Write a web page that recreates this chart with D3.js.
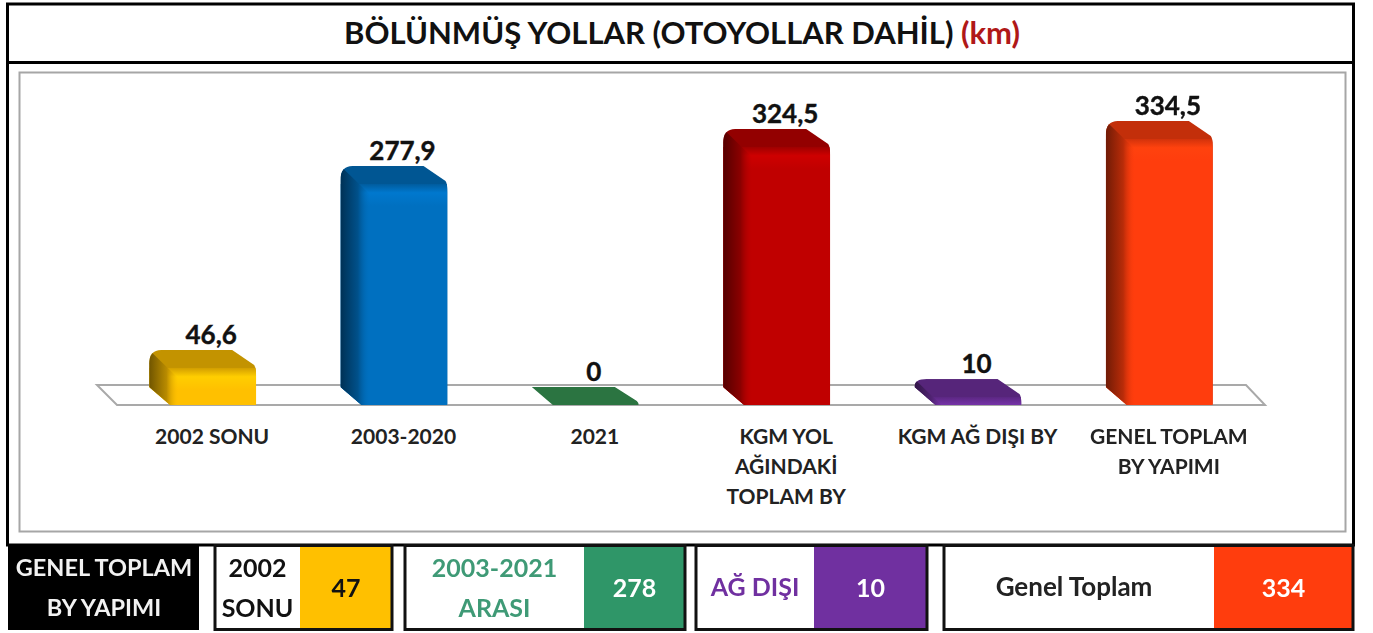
<!DOCTYPE html>
<html><head><meta charset="utf-8">
<script src="https://cdn.jsdelivr.net/npm/d3@7/dist/d3.min.js"></script>
<style>html,body{margin:0;background:#fff;overflow:hidden}svg{display:block;filter:blur(.45px)}text{font-family:Lato,"Open Sans",sans-serif;font-weight:700}</style>
</head><body><svg id="c" width="1373" height="633"></svg>
<script>
const categories = ["2002 SONU","2003-2020","2021","KGM YOL|AĞINDAKİ|TOPLAM BY","KGM AĞ DIŞI BY","GENEL TOPLAM|BY YAPIMI"];
const values = [46.6,277.9,0,324.5,10,334.5];
const valueLabels = ["46,6","277,9","0","324,5","10","334,5"];
const barColors = ["#FFC000","#0070C0","#2E7D46","#C00000","#7030A0","#FF3D0D"];
const titleMain = "BÖLÜNMÜŞ YOLLAR (OTOYOLLAR DAHİL) ";
const titleUnit = "(km)";
const summaryLabels = ["2002|SONU","2003-2021|ARASI","AĞ DIŞI","Genel Toplam"];
const summaryValues = ["47","278","10","334"];
const summaryColors = ["#FFC000","#2F9668","#7030A0","#FF3D0D"];
const summaryLabelColors = ["#111","#3F9A76","#7030A0","#222"];
const summaryValueColors = ["#111","#fff","#fff","#fff"];

const svg = d3.select("#c");
const defs = svg.append("defs");
const x = d3.scaleBand().domain(categories).range([116.5,1264.5]).paddingInner(.54).paddingOuter(.27);
const y = d3.scaleLinear().domain([0,334.5]).range([405,139]);
const dx = 19, dy = 18;

const rect=(a,b,w,h,f,s,sw)=>svg.append("rect").attr("x",a).attr("y",b).attr("width",w).attr("height",h).attr("fill",f).attr("stroke",s||"none").attr("stroke-width",sw||0);
rect(7.5,4,1346,541,"#fff","#000",3);
svg.append("line").attr("x1",7).attr("x2",1354).attr("y1",62.5).attr("y2",62.5).attr("stroke","#000").attr("stroke-width",3);
rect(19.5,72.5,1326,459,"#fff","#a6a6a6",2);

const title = svg.append("text").attr("x",682).attr("y",44).attr("text-anchor","middle").attr("font-size",31).attr("fill","#111");
title.append("tspan").text(titleMain);
title.append("tspan").attr("fill","#B01818").text(titleUnit);

svg.append("path").attr("d",d3.line()([[97,385],[1246,385],[1265,405],[117,405]])+"Z")
  .attr("fill","#fff").attr("stroke","#a9a9a9").attr("stroke-width",2);

categories.forEach((c,i)=>{
  const col = d3.color(barColors[i]);
  const x0 = x(c), x1 = x0+x.bandwidth(), top = y(values[i]), base = y(0);
  const h = base-top;
  const cap = Math.min(base-dy, top-dy+14);
  const capR = Math.min(top+8, base);
  const sil = `M${x0-dx},${base-dy}L${x0-dx},${cap}Q${x0-dx},${top-dy} ${x0-dx+12},${top-dy}L${x1-dx-5},${top-dy}L${x1-2},${Math.min(top-3,base-4)}Q${x1},${Math.min(top,base-2)} ${x1},${capR}L${x1},${base-1}Q${x1},${base} ${x1-1},${base}L${x0+2},${base}Z`;
  defs.append("clipPath").attr("id","k"+i).append("path").attr("d",sil);
  const fg = defs.append("linearGradient").attr("id","f"+i).attr("gradientUnits","userSpaceOnUse")
    .attr("x1",0).attr("x2",0).attr("y1",top).attr("y2",Math.max(top+22,top+1));
  fg.append("stop").attr("offset",0).attr("stop-color",col.darker(.55));
  fg.append("stop").attr("offset",.4).attr("stop-color",col.brighter(.2));
  fg.append("stop").attr("offset",1).attr("stop-color",col);
  const sg = defs.append("linearGradient").attr("id","s"+i).attr("gradientUnits","userSpaceOnUse")
    .attr("x1",x0-dx).attr("x2",x0+10).attr("y1",0).attr("y2",0);
  sg.append("stop").attr("offset",0).attr("stop-color",col.darker(2.3));
  sg.append("stop").attr("offset",.6).attr("stop-color",col.darker(.9));
  sg.append("stop").attr("offset",1).attr("stop-color",col.darker(.1).copy({opacity:0}));
  const g = svg.append("g").attr("clip-path",`url(#k${i})`);
  g.append("rect").attr("x",x0-dx).attr("y",top-dy).attr("width",x.bandwidth()+dx).attr("height",dy+h).attr("fill",values[i]===0?col.darker(.2):col.darker(.75));
  if(h>0) g.append("rect").attr("x",x0-dx).attr("y",top).attr("width",x.bandwidth()+dx).attr("height",h).attr("fill",`url(#f${i})`);
  if(h>0) g.append("path").attr("d",`M${x0-dx},${top-dy}L${x0+10},${top+10}L${x0+10},${base}L${x0-dx},${base}Z`).attr("fill",`url(#s${i})`);
  svg.append("text").attr("x",x0+x.bandwidth()/2-1).attr("y",top-dy-6).attr("text-anchor","middle")
    .attr("font-size",26).attr("fill","#111").attr("stroke","#111").attr("stroke-width",.4).text(valueLabels[i]);
  c.split("|").forEach((t,j)=>svg.append("text").attr("x",x0+x.bandwidth()/2).attr("y",444+j*30)
    .attr("text-anchor","middle").attr("font-size",21).attr("fill","#222").text(t));
});

rect(8,545,191,85,"#000");
["GENEL TOPLAM","BY YAPIMI"].forEach((t,j)=>svg.append("text").attr("x",104).attr("y",576+j*40).attr("text-anchor","middle").attr("font-size",23.5).attr("fill","#f2f2f2").text(t));
const boxes=[[215,300,392],[405,584,685],[696,814,927],[944,1214,1353]];
boxes.forEach((b,i)=>{
  rect(b[0],545.5,b[2]-b[0],84,"#fff");
  rect(b[1],545.5,b[2]-b[1],84,summaryColors[i]);
  rect(b[0],545.5,b[2]-b[0],84,"none","#111",3);
  const ls=summaryLabels[i].split("|"), cx=(b[0]+b[1])/2-(i==3?5:0);
  ls.forEach((t,j)=>svg.append("text").attr("x",cx).attr("y",ls.length>1?577+j*40:596)
    .attr("text-anchor","middle").attr("font-size",i==3?26:25).attr("fill",summaryLabelColors[i]).text(t));
  svg.append("text").attr("x",(b[1]+b[2])/2).attr("y",597).attr("text-anchor","middle").attr("font-size",25).attr("fill",summaryValueColors[i]).text(summaryValues[i]);
});
</script></body></html>
